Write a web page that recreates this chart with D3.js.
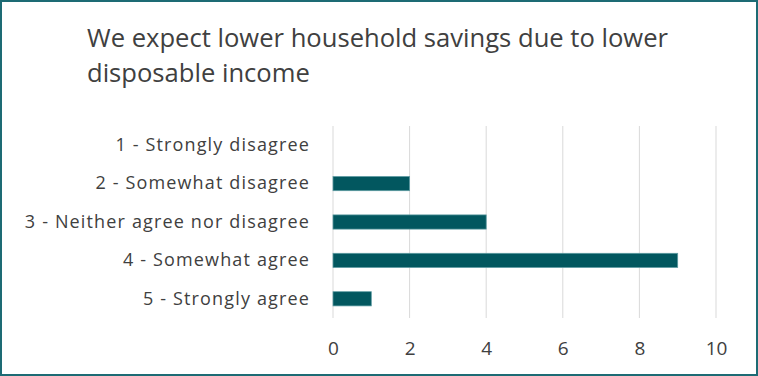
<!DOCTYPE html>
<html>
<head>
<meta charset="utf-8">
<script src="https://cdn.jsdelivr.net/npm/d3@7"></script>
<style>
  body { margin: 0; background: #fff; }
  svg text { font-family: "Open Sans", "Noto Sans", sans-serif; fill: #404040; }
</style>
</head>
<body>
<div id="chart"></div>
<script>
// chart data
var titleLines = ["We expect lower household savings due to lower", "disposable income"];
var categories = ["1 - Strongly disagree", "2 - Somewhat disagree", "3 - Neither agree nor disagree", "4 - Somewhat agree", "5 - Strongly agree"];
var counts = [0, 2, 4, 9, 1];
var xTicks = [0, 2, 4, 6, 8, 10];

var svgWidth = 758;
var svgHeight = 376;

var margin = { top: 126, right: 42, bottom: 58, left: 333 };
var width = svgWidth - margin.left - margin.right;
var height = svgHeight - margin.top - margin.bottom;

var svg = d3.select("#chart")
  .append("svg")
  .attr("width", svgWidth)
  .attr("height", svgHeight);

// outer border
svg.append("rect")
  .attr("x", 1)
  .attr("y", 1)
  .attr("width", svgWidth - 2)
  .attr("height", svgHeight - 2)
  .attr("fill", "#fff")
  .attr("stroke", "#1d6b74")
  .attr("stroke-width", 2);

// title
svg.append("text")
  .attr("x", 87)
  .attr("y", 47)
  .attr("font-size", 25.6)
  .selectAll("tspan")
  .data(titleLines)
  .enter()
  .append("tspan")
  .attr("x", 87)
  .attr("dy", (d, i) => i === 0 ? 0 : 35)
  .text(d => d);

var chartGroup = svg.append("g")
  .attr("transform", `translate(${margin.left}, ${margin.top})`);

var xScale = d3.scaleLinear()
  .domain([0, 10])
  .range([0, width]);

var yScale = d3.scaleBand()
  .domain(categories)
  .range([0, height])
  .paddingInner(0.63)
  .paddingOuter(0.315);

// gridlines
chartGroup.append("g")
  .selectAll("line")
  .data(xTicks)
  .enter()
  .append("line")
  .attr("x1", d => xScale(d))
  .attr("x2", d => xScale(d))
  .attr("y1", 0)
  .attr("y2", height)
  .attr("stroke", "#d9d9d9")
  .attr("stroke-width", 1);

// bars
chartGroup.selectAll(".bar")
  .data(counts)
  .enter()
  .append("rect")
  .attr("class", "bar")
  .attr("x", xScale(0))
  .attr("y", (d, i) => yScale(categories[i]))
  .attr("width", d => xScale(d) - xScale(0))
  .attr("height", yScale.bandwidth())
  .attr("fill", "#02575f")
  .attr("stroke", d => d > 0 ? "#5d9ba2" : "none")
  .attr("stroke-width", 0.75);

// y axis labels
var leftAxis = d3.axisLeft(yScale).tickSize(0).tickPadding(23);
chartGroup.append("g")
  .call(leftAxis)
  .call(g => g.select(".domain").remove())
  .selectAll("text")
  .attr("font-size", 18)
  .attr("letter-spacing", 1.15);

// x axis labels
var bottomAxis = d3.axisBottom(xScale).tickValues(xTicks).tickSize(0).tickPadding(24);
chartGroup.append("g")
  .attr("transform", `translate(0, ${height})`)
  .call(bottomAxis)
  .call(g => g.select(".domain").remove())
  .selectAll("text")
  .attr("font-size", 19);
</script>
</body>
</html>
